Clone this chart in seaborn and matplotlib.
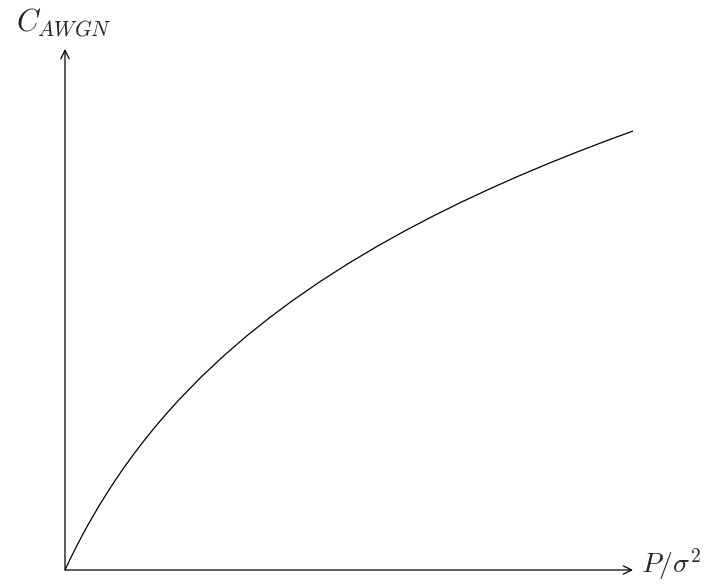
import matplotlib
matplotlib.use("Agg")
import matplotlib.pyplot as plt
import seaborn as sns
import pandas as pd

# Signal-to-noise ratio P/sigma^2 and the AWGN channel capacity
snr = [0.0, 0.05, 0.1, 0.15, 0.2, 0.3, 0.4, 0.5, 0.6, 0.7, 0.8, 0.9, 1.0,
       1.2, 1.4, 1.6, 1.8, 2.0, 2.25, 2.5, 2.75, 3.0, 3.25, 3.5, 3.75,
       4.0, 4.25, 4.5, 4.75, 5.0]
capacity = [0.0, 0.0704, 0.1375, 0.2016, 0.2630, 0.3785, 0.4854, 0.5850,
            0.6781, 0.7655, 0.8480, 0.9260, 1.0, 1.1375, 1.2630, 1.3785,
            1.4854, 1.5850, 1.7004, 1.8074, 1.9069, 2.0, 2.0875, 2.1699,
            2.2479, 2.3219, 2.3923, 2.4594, 2.5236, 2.5850]

x_label = r"$P/\sigma^2$"
y_label = r"$C_{AWGN}$"

sns.set_theme(style="white")
plt.rcParams["mathtext.fontset"] = "cm"
plt.rcParams["font.family"] = ["DejaVu Sans"]

df = pd.DataFrame({"snr": snr, "capacity": capacity})

W, H = 714, 585
fig = plt.figure(figsize=(W / 100, H / 100), dpi=100)
ax = fig.add_axes([65 / W, (H - 570) / H, 568 / W, 521 / H])
ax.set_facecolor("white")

sns.lineplot(data=df, x="snr", y="capacity", color="black", lw=0.9, ax=ax)

ax.set_xlim(0, 5)
ax.set_ylim(0, 3.068)
ax.set_xticks([])
ax.set_yticks([])
ax.set_xlabel("")
ax.set_ylabel("")
for s in ax.spines.values():
    s.set_visible(False)

# Axis arrows
arrow = dict(arrowstyle="->,head_length=0.5,head_width=0.25", color="black",
             lw=0.9, shrinkA=0, shrinkB=0)
ax.annotate("", xy=(1, 0), xytext=(0, 0), xycoords="axes fraction",
            textcoords="axes fraction", arrowprops=arrow, annotation_clip=False)
ax.annotate("", xy=(0, 1), xytext=(0, 0), xycoords="axes fraction",
            textcoords="axes fraction", arrowprops=arrow, annotation_clip=False)

fig.text(641 / W, 1 - 564 / H, x_label, fontsize=20, ha="left", va="center")
fig.text(64 / W, 1 - 39 / H, y_label, fontsize=22, ha="center", va="bottom")

fig.savefig("out.png", dpi=100, facecolor="white")
